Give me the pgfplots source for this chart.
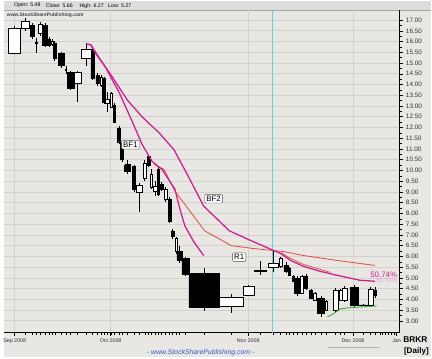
\documentclass[border=0pt]{standalone}
\usepackage{pgfplots}
\pgfplotsset{compat=1.18}
\usepackage{fontspec}
\setmainfont{Liberation Sans}
\definecolor{bgc}{HTML}{E8E7E4}
\definecolor{gridc}{HTML}{D4D1CB}
\definecolor{hdr}{HTML}{DDDDDD}
\definecolor{mag}{HTML}{CC2290}
\definecolor{rd}{HTML}{DD4A3A}
\definecolor{grn}{HTML}{3FA535}
\definecolor{cyn}{HTML}{6CCFD8}
\definecolor{wwwblue}{HTML}{3A5BC0}
\begin{document}
\begin{tikzpicture}
\fill[bgc] (0bp,-25bp) rectangle (432bp,335bp);
\fill[hdr] (0bp,326bp) rectangle (432bp,335bp);
\draw[gray!70, line width=0.5bp] (0bp,326bp) -- (432bp,326bp);
\begin{axis}[
  at={(0bp,0bp)}, anchor=south west, scale only axis,
  width=400bp, height=326bp,
  xmin=0, xmax=400, ymin=2.447, ymax=17.461,
  axis x line*=bottom, axis y line*=right,
  axis line style={black, line width=0.8bp},
  ytick={3,3.5,...,17.1}, minor y tick num=1,
  /pgf/number format/assume math mode=true,
  yticklabel style={font=\fontsize{6.5}{7}\selectfont, text=black!80, /pgf/number format/fixed, /pgf/number format/fixed zerofill, /pgf/number format/precision=2},
  xtick={11,108,247,353},
  xticklabels={Sep 2008, Oct 2008, Nov 2008, Dec 2008},
  extra x ticks={397}, extra x tick labels={Jan}, extra x tick style={grid=none},
  xticklabel style={font=\fontsize{5.4}{6}\selectfont, text=black!80},
  minor xtick={10.5,22,29,33,37,41.5,45.5,49,51.5,58,62.75,67.5,74.5,83,89.5,94.5,98.5,101.5,105,109,112,116.5,119.5,125,131.5,137,142.5,146.5,149,153,156,159.5,163.5,167.5,170.5,174,177.5,183.5,202.5,230,259,272,279.5,285.5,289,293,297,301.5,305.5,310.5,314.5,320.5,326,335.5,340.5,344.5,363,370.5,375,380,383,386,389,392,395},
  ymajorgrids, xmajorgrids,
  grid style={gridc, line width=0.7bp},
  tick align=outside,
  major tick length=3bp, minor tick length=2bp,
  tick style={black, line width=0.5bp},
  unbounded coords=jump,
]
\addplot[cyn, line width=0.9bp] coordinates {(272,2.447) (272,17.461)};
% wicks
\addplot[black, line width=0.6bp, mark=none] coordinates {
(10.5,16.724) (10.5,15.40) (nan,nan)
(22,17.092) (22,16.493) (nan,nan)
(29,16.862) (29,16.125) (nan,nan)
(33,16.171) (33,15.480) (nan,nan)
(37,16.908) (37,16.263) (nan,nan)
(41.5,16.862) (41.5,15.757) (nan,nan)
(45.5,16.217) (45.5,15.757) (nan,nan)
(49,16.125) (49,15.803) (nan,nan)
(51.5,16.033) (51.5,15.112) (nan,nan)
(58,15.526) (58,14.789) (nan,nan)
(62.75,14.882) (62.75,14.467) (nan,nan)
(67.5,14.651) (67.5,13.730) (nan,nan)
(74.5,14.651) (74.5,13.178) (nan,nan)
(83,15.895) (83,14.882) (nan,nan)
(89.5,15.803) (89.5,14.191) (nan,nan)
(94.5,14.513) (94.5,13.914) (nan,nan)
(98.5,14.421) (98.5,13.868) (nan,nan)
(101.5,14.329) (101.5,13.086) (nan,nan)
(105,13.638) (105,12.717) (nan,nan)
(109,13.638) (109,12.901) (nan,nan)
(112,13.132) (112,12.211) (nan,nan)
(116.5,12.072) (116.5,11.243) (nan,nan)
(119.5,11.382) (119.5,10.415) (nan,nan)
(125,10.507) (125,9.816) (nan,nan)
(131.5,10.276) (131.5,8.987) (nan,nan)
(137,9.401) (137,8.066) (nan,nan)
(142.5,10.507) (142.5,9.493) (nan,nan)
(146.5,10.737) (146.5,10.138) (nan,nan)
(149,10.046) (149,9.125) (nan,nan)
(153,9.493) (153,8.803) (nan,nan)
(156,10.138) (156,8.803) (nan,nan)
(159.5,9.447) (159.5,9.033) (nan,nan)
(163.5,9.217) (163.5,8.526) (nan,nan)
(167.5,8.757) (167.5,7.559) (nan,nan)
(170.5,7.283) (170.5,6.822) (nan,nan)
(174,6.915) (174,6.132) (nan,nan)
(177.5,6.500) (177.5,5.671) (nan,nan)
(183.5,5.994) (183.5,5.073) (nan,nan)
(202.5,5.441) (202.5,3.461) (nan,nan)
(230,4.244) (230,3.369) (nan,nan)
(247.5,4.658) (247.5,4.151) (nan,nan)
(259,5.763) (259,5.119) (nan,nan)
(272,6.27) (272,5.27) (nan,nan)
(279.5,5.994) (279.5,5.441) (nan,nan)
(285.5,5.717) (285.5,5.211) (nan,nan)
(289,5.487) (289,5.073) (nan,nan)
(293,5.119) (293,4.796) (nan,nan)
(297,5.073) (297,4.151) (nan,nan)
(301.5,5.119) (301.5,4.244) (nan,nan)
(305.5,5.165) (305.5,4.428) (nan,nan)
(310.5,4.474) (310.5,4.013) (nan,nan)
(314.5,4.336) (314.5,3.921) (nan,nan)
(320.5,4.151) (320.5,3.184) (nan,nan)
(326,3.967) (326,3.461) (nan,nan)
(335.5,4.520) (335.5,3.415) (nan,nan)
(340.5,4.474) (340.5,3.921) (nan,nan)
(344.5,4.612) (344.5,3.875) (nan,nan)
(354,4.658) (354,3.599) (nan,nan)
(363,3.783) (363,3.691) (nan,nan)
(370.5,4.566) (370.5,3.645) (nan,nan)
(375,4.566) (375,4.059)
};
% black bodies
\addplot[fill=black, draw=black, line width=0.5bp, mark=none] coordinates {
(27,16.770) (31,16.770) (31,16.263) (27,16.263) (27,16.770) (nan,nan)
(32,15.99) (34,15.99) (34,15.94) (32,15.94) (32,15.99) (nan,nan)
(39,16.770) (44,16.770) (44,15.849) (39,15.849) (39,16.770) (nan,nan)
(44,16.125) (47,16.125) (47,15.849) (44,15.849) (44,16.125) (nan,nan)
(50,15.941) (53,15.941) (53,15.204) (50,15.204) (50,15.941) (nan,nan)
(55,15.434) (61,15.434) (61,14.882) (55,14.882) (55,15.434) (nan,nan)
(62,14.70) (63.5,14.70) (63.5,14.65) (62,14.65) (62,14.70) (nan,nan)
(64,14.559) (71,14.559) (71,13.822) (64,13.822) (64,14.559) (nan,nan)
(88,15.572) (91,15.572) (91,14.283) (88,14.283) (88,15.572) (nan,nan)
(93,14.421) (96,14.421) (96,14.053) (93,14.053) (93,14.421) (nan,nan)
(100,14.283) (103,14.283) (103,13.178) (100,13.178) (100,14.283) (nan,nan)
(111,13.039) (113,13.039) (113,12.257) (111,12.257) (111,13.039) (nan,nan)
(115,11.980) (118,11.980) (118,11.336) (115,11.336) (115,11.980) (nan,nan)
(118,11.289) (121,11.289) (121,10.507) (118,10.507) (118,11.289) (nan,nan)
(122,10.276) (128,10.276) (128,9.954) (122,9.954) (122,10.276) (nan,nan)
(130,10.184) (133,10.184) (133,9.125) (130,9.125) (130,10.184) (nan,nan)
(145,10.645) (148,10.645) (148,10.230) (145,10.230) (145,10.645) (nan,nan)
(155,10.046) (157,10.046) (157,8.895) (155,8.895) (155,10.046) (nan,nan)
(158,9.355) (161,9.355) (161,9.125) (158,9.125) (158,9.355) (nan,nan)
(166,8.664) (169,8.664) (169,7.651) (166,7.651) (166,8.664) (nan,nan)
(169,7.191) (172,7.191) (172,6.915) (169,6.915) (169,7.191) (nan,nan)
(175,6.224) (180,6.224) (180,5.809) (175,5.809) (175,6.224) (nan,nan)
(180,5.901) (187,5.901) (187,5.165) (180,5.165) (180,5.901) (nan,nan)
(187,5.211) (218,5.211) (218,3.645) (187,3.645) (187,5.211) (nan,nan)
(253,5.36) (265,5.36) (265,5.33) (253,5.33) (253,5.36) (nan,nan)
(283,5.579) (288,5.579) (288,5.303) (283,5.303) (283,5.579) (nan,nan)
(288,5.441) (290,5.441) (290,5.119) (288,5.119) (288,5.441) (nan,nan)
(292,5.073) (294,5.073) (294,4.842) (292,4.842) (292,5.073) (nan,nan)
(294,4.980) (300,4.980) (300,4.290) (294,4.290) (294,4.980) (nan,nan)
(304,5.073) (307,5.073) (307,4.520) (304,4.520) (304,5.073) (nan,nan)
(309,4.428) (312,4.428) (312,4.059) (309,4.059) (309,4.428) (nan,nan)
(317,4.059) (324,4.059) (324,3.369) (317,3.369) (317,4.059) (nan,nan)
(350,4.566) (358,4.566) (358,3.737) (350,3.737) (350,4.566) (nan,nan)
(358,3.745) (368,3.745) (368,3.725) (358,3.725) (358,3.745) (nan,nan)
(374,4.428) (376,4.428) (376,4.197) (374,4.197) (374,4.428)
};
% white bodies
\addplot[fill=white, draw=black, line width=0.5bp, mark=none] coordinates {
(4,16.632) (17,16.632) (17,15.434) (4,15.434) (4,16.632) (nan,nan)
(18,16.954) (26,16.954) (26,16.632) (18,16.632) (18,16.954) (nan,nan)
(35,16.816) (39,16.816) (39,16.401) (35,16.401) (35,16.816) (nan,nan)
(48,16.033) (50,16.033) (50,15.895) (48,15.895) (48,16.033) (nan,nan)
(71,14.559) (78,14.559) (78,14.053) (71,14.053) (71,14.559) (nan,nan)
(78,15.664) (88,15.664) (88,15.204) (78,15.204) (78,15.664) (nan,nan)
(97,14.329) (100,14.329) (100,13.961) (97,13.961) (97,14.329) (nan,nan)
(103,13.316) (107,13.316) (107,13.132) (103,13.132) (103,13.316) (nan,nan)
(108,13.592) (110,13.592) (110,12.947) (108,12.947) (108,13.592) (nan,nan)
(134,9.309) (140,9.309) (140,8.987) (134,8.987) (134,9.309) (nan,nan)
(141,10.322) (144,10.322) (144,9.632) (141,9.632) (141,10.322) (nan,nan)
(148,9.816) (150,9.816) (150,9.217) (148,9.217) (148,9.816) (nan,nan)
(151,9.263) (155,9.263) (155,9.033) (151,9.033) (151,9.263) (nan,nan)
(162,9.125) (165,9.125) (165,8.664) (162,8.664) (162,9.125) (nan,nan)
(173,6.822) (175,6.822) (175,6.224) (173,6.224) (173,6.822) (nan,nan)
(218,4.105) (242,4.105) (242,3.691) (218,3.691) (218,4.105) (nan,nan)
(242,4.612) (253,4.612) (253,4.197) (242,4.197) (242,4.612) (nan,nan)
(267,5.66) (277,5.66) (277,5.48) (267,5.48) (267,5.66) (nan,nan)
(278,5.901) (281,5.901) (281,5.533) (278,5.533) (278,5.901) (nan,nan)
(300,5.073) (303,5.073) (303,4.290) (300,4.290) (300,5.073) (nan,nan)
(313,4.290) (316,4.290) (316,3.967) (313,3.967) (313,4.290) (nan,nan)
(325,3.921) (327,3.921) (327,3.507) (325,3.507) (325,3.921) (nan,nan)
(333,4.428) (338,4.428) (338,3.507) (333,3.507) (333,4.428) (nan,nan)
(339,4.428) (342,4.428) (342,3.967) (339,3.967) (339,4.428) (nan,nan)
(342,4.520) (347,4.520) (347,3.967) (342,3.967) (342,4.520) (nan,nan)
(368,4.474) (373,4.474) (373,3.737) (368,3.737) (368,4.474)
};
% moving averages
\addplot[rd, line width=0.8bp, mark=none] coordinates {
(152,10.276) (162,10.046) (173,9.033) (188,8.112) (203,7.191) (230,6.500) (253,6.362) (273,6.270) (283,6.224) (303,6.040) (337,5.809) (375,5.579)};
\addplot[rd, line width=0.7bp, mark=none] coordinates {
(280,6.178) (290,5.901) (303,5.625) (320,5.395) (330,5.256)};
\addplot[mag, line width=1.3bp, mark=none] coordinates {
(83,15.895) (88,15.849) (93,15.434) (103,14.789) (117,13.592) (130,12.257) (140,11.197) (150,10.415) (160,10.046) (173,9.125) (178,8.204) (183,7.421) (192,6.684) (202,6.040)};
\addplot[mag, line width=1.3bp, mark=none] coordinates {
(83,15.895) (88,15.849) (97,15.204) (110,14.329) (125,13.270) (140,12.487) (157,11.750) (172,10.967) (187,9.678) (202,8.342) (228,7.191) (250,6.730) (273,6.270) (280,6.132) (290,5.809) (303,5.533) (320,5.303) (337,5.119) (360,4.888) (375,4.842)};
\addplot[grn, line width=0.9bp, mark=none] coordinates {
(327,3.184) (333,3.322) (340,3.553) (347,3.599) (360,3.645) (377,3.691)};
% labels
\node[draw=black!70, fill=white, rounded corners=1bp, inner sep=1.6bp, font=\fontsize{8}{9}\selectfont] at (axis cs:128,11.197) {BF1};
\node[draw=black!70, fill=white, rounded corners=1bp, inner sep=1.6bp, font=\fontsize{8}{9}\selectfont] at (axis cs:212,8.687) {BF2};
\node[draw=black!70, fill=white, rounded corners=1bp, inner sep=1.6bp, font=\fontsize{8}{9}\selectfont] at (axis cs:238,5.970) {R1};
\node[text=mag!45, font=\fontsize{6.2}{7}\selectfont] at (axis cs:387,4.888) {50.74\%};
\node[text=mag, font=\fontsize{8}{9}\selectfont] at (axis cs:384,5.164) {50.74\%};
\node[draw=black, fill=white, font=\bfseries\fontsize{6.4}{7}\selectfont, inner sep=2bp, minimum height=13bp, anchor=north] at (axis cs:271,2.447) {11/05/08};
\end{axis}
\node[anchor=west, font=\fontsize{5.3}{6}\selectfont] at (7bp,330.5bp) {Open: 5.48};
\node[anchor=west, font=\fontsize{5.3}{6}\selectfont] at (39bp,330.5bp) {Close: 5.66};
\node[anchor=west, font=\fontsize{5.3}{6}\selectfont] at (73bp,330.5bp) {High: 6.27};
\node[anchor=west, font=\fontsize{5.3}{6}\selectfont] at (102bp,330.5bp) {Low: 5.27};
\node[anchor=west, inner sep=0pt, font=\bfseries\fontsize{5}{6}\selectfont, text=black!75] at (3bp,321bp) {www.StockSharePublishing.com};
\node[font=\itshape\fontsize{7}{8}\selectfont, text=wwwblue] at (199bp,-20bp) {- www.StockSharePublishing.com -};
\node[font=\bfseries\fontsize{8.5}{9}\selectfont] at (416bp,-7bp) {BRKR};
\node[font=\bfseries\fontsize{8.2}{9}\selectfont] at (417bp,-19bp) {[Daily]};
\draw[gray!60, line width=1bp] (328bp,-15bp) -- (380bp,-15bp);
\end{tikzpicture}
\end{document}
